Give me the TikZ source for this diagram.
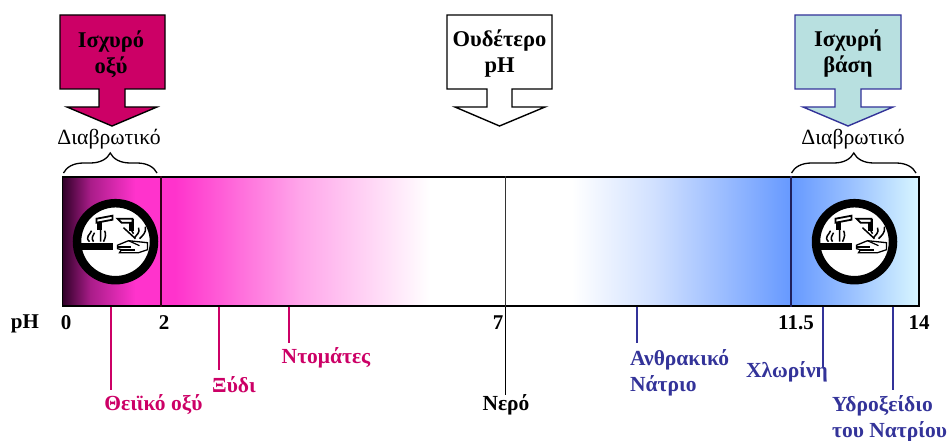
\documentclass[tikz,border=0pt]{standalone}
\usepackage{fontspec}
\setmainfont{Liberation Serif}
\usetikzlibrary{calc, decorations.pathreplacing}

\definecolor{acidred}{HTML}{CC0066}
\definecolor{acidpink}{HTML}{FF33CC}
\definecolor{acidpale}{HTML}{FFA6EA}
\definecolor{aciddark}{HTML}{300028}
\definecolor{acidmid}{HTML}{A81C88}
\definecolor{baseblue}{HTML}{333399}
\definecolor{basemid}{HTML}{6699FF}
\definecolor{baselight}{HTML}{D0E0FF}
\definecolor{basesoft}{HTML}{99C0FF}
\definecolor{basepale}{HTML}{D8F6FF}
\definecolor{basebox}{HTML}{B8E0E0}

\tikzset{
  boxarrow/.style={draw, line width=1.4pt, line join=miter},
  boxlabel/.style={font=\fontsize{22.5}{26}\selectfont\bfseries, align=center, inner sep=0pt},
  phvalue/.style={font=\fontsize{21}{24}\selectfont\bfseries, inner sep=0pt},
  corrlabel/.style={font=\fontsize{21.7}{24}\selectfont, inner sep=0pt},
  curly/.style={draw, line width=1.3pt, decorate, decoration={brace, amplitude=20pt}},
  acidtick/.style={draw=acidred, line width=1.5pt},
  basetick/.style={draw=baseblue, line width=1.5pt},
  acidname/.style={font=\fontsize{21.5}{26}\selectfont\bfseries, text=acidred, inner sep=0pt},
  basename/.style={font=\fontsize{21.5}{26}\selectfont\bfseries, text=baseblue, align=left, inner sep=0pt},
  corrosive/.pic={
    \fill[white] (0,0) circle (38);
    \draw[line width=8.5pt] (0,0) circle (38.5);
    % bench and hand
    \fill (-36,1) rectangle (-3,8);
    \draw[line width=1.3pt, fill=white] (2,3.5) -- (13,-1) -- (32,1) -- (32,8) -- (23,11) -- (4,11) -- (6,8) -- (2,7) -- cycle;
    \draw[line width=1.6pt] (2,5) -- (15,5) (5,8) -- (19,8);
    \draw[line width=1.2pt] (13,-1) -- (24,4);
    % tubes
    \fill (-19,-23) rectangle (-14,-12);
    \draw[line width=1.8pt, fill=white] (-19,-23) -- (-3,-26) -- (-3,-22) -- (-19,-19) -- cycle;
    \fill (13,-23) rectangle (18,-11);
    \draw[line width=1.8pt, fill=white] (2,-23) -- (17,-23) -- (17,-19) -- (6,-19) -- cycle;
    % drops and fumes
    \draw[line width=1.5pt] (-15,-12) -- (-15,0) (-11,-11) .. controls (-9,-8) and (-10,-4) .. (-12,0)
      (-26,0) .. controls (-31,-5) and (-25,-7) .. (-24,-11) (-22,0) .. controls (-25,-4) and (-22,-6) .. (-21,-9);
    \draw[line width=1.5pt] (8,-14) -- (20,-3) (14,-15) -- (18,-8) (30,-15) .. controls (31,-9) and (27,-6) .. (24,-3)
      (23,-14) .. controls (25,-9) and (21,-7) .. (19,-4);
  }
}

\begin{document}
\begin{tikzpicture}[x=1pt, y=-1pt]
  \useasboundingbox (0,0) rectangle (949,441);

  % top arrows
  \draw[boxarrow, draw=black, fill=acidred] (60,15) -- (165,15) -- (165,89) -- (125,89) -- (125,107)
    -- (157,107) -- (112,126) -- (67,107) -- (99,107) -- (99,89) -- (60,89) -- cycle;
  \node[boxlabel] (strongacid) at (111,54) {Ισχυρό\\οξύ};

  \draw[boxarrow, draw=black, fill=white] (447,15) -- (552,15) -- (552,89) -- (512,89) -- (512,107)
    -- (545,107) -- (499.5,126) -- (455,107) -- (487,107) -- (487,89) -- (447,89) -- cycle;
  \node[boxlabel] (neutral) at (499.5,54) {Ουδέτερο\\pH};

  \draw[boxarrow, draw=baseblue, fill=basebox] (795,15) -- (901,15) -- (901,89) -- (861,89) -- (861,107)
    -- (893,107) -- (848,126) -- (803,107) -- (835,107) -- (835,89) -- (795,89) -- cycle;
  \node[boxlabel] (strongbase) at (848,54) {Ισχυρή\\βάση};

  % corrosive braces
  \node[corrlabel] (corrleft) at (109,139) {Διαβρωτικό};
  \node[corrlabel] (corrright) at (853,139) {Διαβρωτικό};
  \coordinate (braceA) at (63.5,173);
  \coordinate (braceB) at (157,173);
  \coordinate (braceC) at (791.5,173);
  \coordinate (braceD) at (916,173);
  \path[curly] (braceA) -- (braceB);
  \path[curly] (braceC) -- (braceD);

  % the scale
  \foreach \xa/\xb/\ca/\cb in {62.5/90/aciddark/acidmid, 90/135/acidmid/acidpink, 135/175/acidpink/acidpink,
      175/300/acidpink/acidpale, 300/430/acidpale/white, 572/655/white/baselight, 655/791/baselight/basemid,
      791/850/basemid/basesoft, 850/919/basesoft/basepale}
    \shade[left color=\ca, right color=\cb] (\xa,177) rectangle (\xb+0.3,306);
  \node[draw, line width=1.3pt, minimum width=856.5pt, minimum height=129pt, inner sep=0pt] (scale) at (490.75,241.5) {};
  \draw[line width=1.2pt, draw=black!75!acidred] (scale.north -| 161,0) -- (scale.south -| 161,0);
  \draw[line width=1.2pt, draw=black!80] (scale.north -| 505.5,0) -- (scale.south -| 505.5,0);
  \draw[line width=1.2pt, draw=baseblue!60!black] (scale.north -| 791,0) -- (scale.south -| 791,0);

  \pic at (115.5,241.7) {corrosive};
  \pic at (854.5,241.7) {corrosive};

  % pH values
  \node[phvalue] (phname) at (25,324) {pH};
  \node[phvalue] (ph0) at (66,323) {0};
  \node[phvalue] (ph2) at (164,323) {2};
  \node[phvalue] (ph7) at (498,323) {7};
  \node[phvalue] (ph11) at (796,323) {11.5};
  \node[phvalue] (ph14) at (919,323) {14};

  % substances
  \node[acidname] (sulfuric) at (153.5,405) {Θειϊκό οξύ};
  \node[acidname] (vinegar) at (234,385) {Ξύδι};
  \node[acidname] (tomatoes) at (326,358) {Ντομάτες};
  \node[font=\fontsize{21.5}{26}\selectfont\bfseries, inner sep=0pt] (water) at (506,405) {Νερό};
  \node[basename, anchor=west] (carbonate) at (630,373) {Ανθρακικό\\Νάτριο};
  \node[basename] (bleach) at (787,372) {Χλωρίνη};
  \node[basename, anchor=west] (hydroxide) at (832,419) {Υδροξείδιο\\του Νατρίου};

  \draw[acidtick] (scale.south -| 111,0) -- (111,390);
  \draw[acidtick] (scale.south -| 219,0) -- (219,370);
  \draw[acidtick] (scale.south -| 289,0) -- (289,343);
  \draw[line width=1.5pt] (scale.south -| 505.5,0) -- (water.north -| 505.5,0);
  \draw[basetick] (scale.south -| 637,0) -- (637,343);
  \draw[basetick] (scale.south -| 823,0) -- (823,367);
  \draw[basetick] (scale.south -| 893,0) -- (893,390);
\end{tikzpicture}
\end{document}
